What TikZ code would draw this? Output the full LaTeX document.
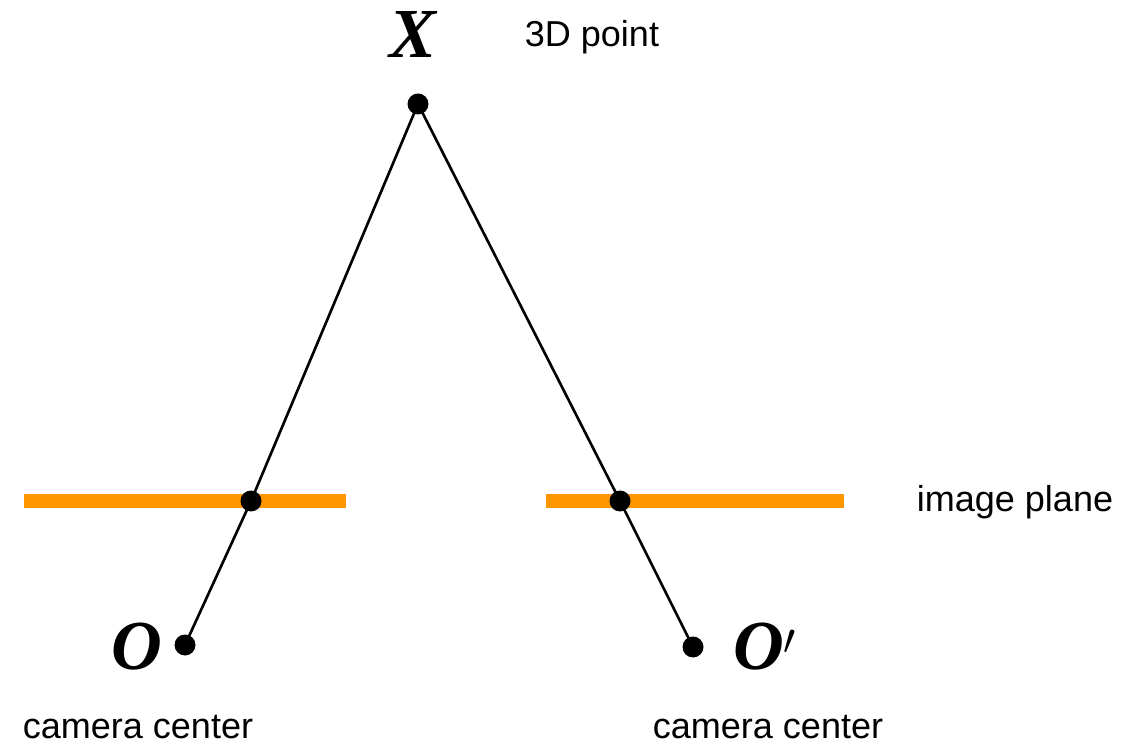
\documentclass[tikz,border=0pt]{standalone}
\usepackage{fontspec}
\setmainfont{Liberation Sans}
\newfontfamily\ptfont{Liberation Serif}
\definecolor{planeorange}{RGB}{255,150,0}
\begin{document}
\begin{tikzpicture}[every node/.style={font=\fontsize{20.5}{24}\selectfont}]
  \tikzstyle{pt}=[circle, fill=black, inner sep=0pt, minimum size=4.2mm]
  \tikzstyle{ptname}=[font=\ptfont\bfseries\itshape\fontsize{40}{40}\selectfont]
  \tikzstyle{plane}=[planeorange, line width=7.4pt]
  \tikzstyle{ray}=[line width=1.5pt]
  \useasboundingbox (0, 0) rectangle (22.46, 14.92);
  % image planes
  \draw[plane] (0.48, 4.9) -- (6.92, 4.9);
  \draw[plane] (10.92, 4.9) -- (16.88, 4.9);
  % point, image points and camera centres
  \node[pt] (X)  at (8.36, 12.84) {};
  \node[pt] (x1) at (5.02, 4.90)  {};
  \node[pt] (x2) at (12.40, 4.90) {};
  \node[pt] (O)  at (3.70, 2.02)  {};
  \node[pt] (O2) at (13.86, 1.98) {};
  \draw[ray] (X.center) -- (x1.center) -- (O.center);
  \draw[ray] (X.center) -- (x2.center) -- (O2.center);
  % labels
  \node[ptname] (lX)  at (8.26, 14.24) {X};
  \node[ptname] (lO)  at (2.74, 1.98)  {O};
  \node[ptname] (lO2) at (15.30, 1.98) {O$'$};
  \node (l3d)  at (11.84, 14.18) {3D point};
  \node (limg) at (20.30, 4.88)  {image plane};
  \node (lc1)  at (2.76, 0.38)   {camera center};
  \node (lc2)  at (15.36, 0.38)  {camera center};
\end{tikzpicture}
\end{document}
